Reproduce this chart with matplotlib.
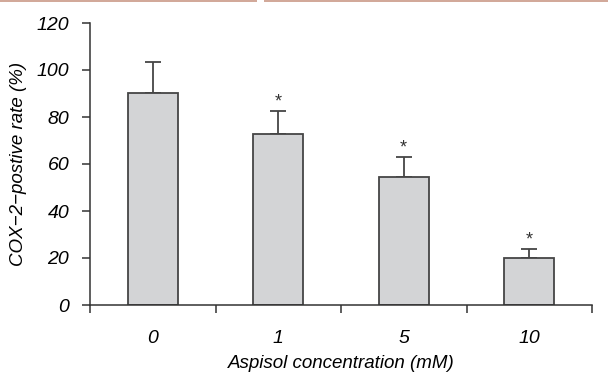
import numpy as np
import matplotlib
matplotlib.use("Agg")
import matplotlib.pyplot as plt
from matplotlib.patches import Rectangle

categories = ["0", "1", "5", "10"]
rates = [90.2, 72.8, 54.5, 20.1]
errors = [13.3, 9.9, 8.3, 3.6]
significant = [False, True, True, True]
y_ticks = [0, 20, 40, 60, 80, 100, 120]

FONT = ["Liberation Sans", "DejaVu Sans"]
plt.rcParams.update({"font.family": FONT, "font.style": "italic", "font.size": 14})

fig = plt.figure(figsize=(6.08, 3.76), dpi=100)
ax = fig.add_axes([90 / 608, 71 / 376, 502 / 608, 282 / 376])

# thin pink strip along the top edge of the scan
fig.patches.append(Rectangle((0, 374 / 376), 257 / 608, 2 / 376, transform=fig.transFigure,
                             color="#d2a99a", lw=0))
fig.patches.append(Rectangle((264 / 608, 374 / 376), 344 / 608, 2 / 376, transform=fig.transFigure,
                             color="#d2a99a", lw=0))

x = np.arange(len(categories)) + 0.5
ax.bar(x, rates, width=0.4, color="#d3d4d6", edgecolor="#454545", linewidth=1.3, zorder=2)
ax.errorbar(x, rates, yerr=[np.zeros(len(errors)), errors], fmt="none", ecolor="#454545",
            elinewidth=1.3, capsize=5.5, capthick=1.3, zorder=1)
for xi, r, e, s in zip(x, rates, errors, significant):
    if s:
        ax.text(xi, r + e + 0.2, "*", ha="center", va="bottom", fontsize=13,
                fontstyle="normal", color="#333")

ax.set_xlim(0, len(categories))
ax.set_ylim(0, 120)
ax.set_yticks(y_ticks)
ax.set_xticks(np.arange(len(categories) + 1))
ax.set_xticklabels([])
ax.set_xticks(x, minor=True)
ax.set_xticklabels(categories, minor=True)
ax.tick_params(axis="x", which="minor", length=0, pad=18)
ax.tick_params(axis="x", which="major", length=6, width=1.1, color="#333")
ax.tick_params(axis="y", length=6, width=1.1, color="#333", pad=9)
for sp in ["top", "right"]:
    ax.spines[sp].set_visible(False)
for sp in ["left", "bottom"]:
    ax.spines[sp].set_linewidth(1.1)
    ax.spines[sp].set_color("#333")

ax.set_xlabel("Aspisol concentration (mM)", labelpad=6, fontsize=13.5)
ax.set_ylabel("COX\u22122\u2212postive rate (%)", fontsize=13.5)
ax.yaxis.set_label_coords(-0.125, 0.5)

fig.savefig("out.png", dpi=100)
